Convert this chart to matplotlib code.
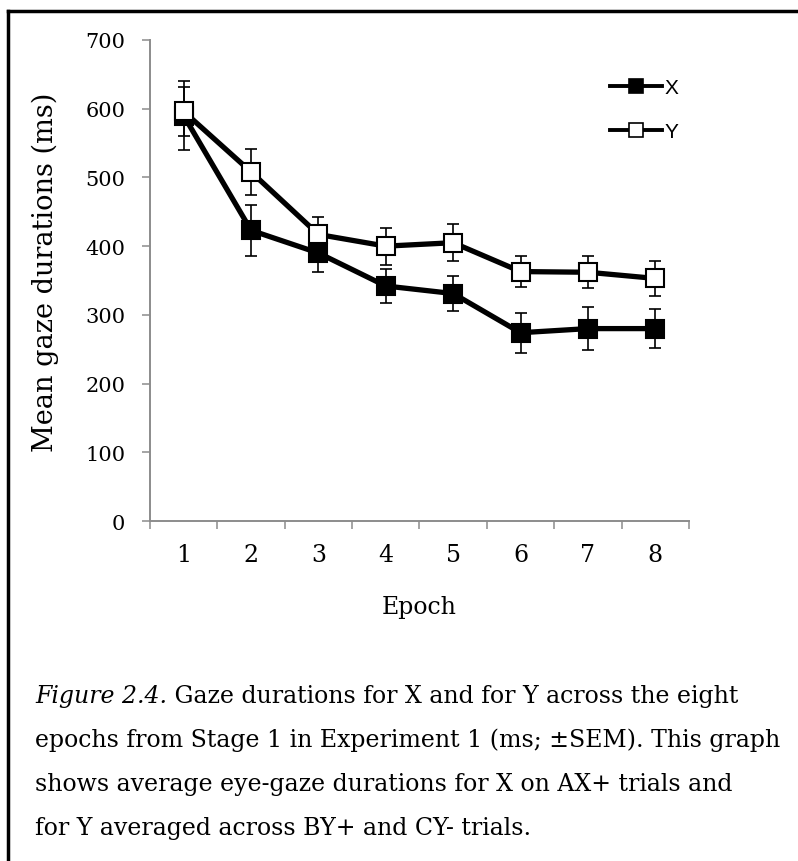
"""Gaze durations for X and Y across the eight Stage 1 epochs."""

import matplotlib
matplotlib.use("Agg")
import matplotlib.pyplot as plt
from matplotlib.lines import Line2D

EPOCHS = [1, 2, 3, 4, 5, 6, 7, 8]
X_MEAN = [590, 423, 390, 342, 331, 274, 280, 280]
X_SEM = [50, 37, 28, 25, 25, 29, 31, 28]
Y_MEAN = [596, 508, 417, 400, 405, 363, 362, 353]
Y_SEM = [36, 33, 26, 27, 27, 23, 23, 26]
Y_TICKS = [0, 100, 200, 300, 400, 500, 600, 700]

CAPTION_ITALIC = "Figure 2.4."
CAPTION_LINES = [
    " Gaze durations for X and for Y across the eight",
    "epochs from Stage 1 in Experiment 1 (ms; \u00b1SEM). This graph",
    "shows average eye-gaze durations for X on AX+ trials and",
    "for Y averaged across BY+ and CY- trials.",
]

W, H = 798, 862
SERIF = "DejaVu Serif"
GREY = "#8c8c8c"


def px_x(x):
    return x / W


def px_y(y):
    return 1 - y / H


def main():
    fig = plt.figure(figsize=(W / 100, H / 100), dpi=100)
    ax = fig.add_axes([px_x(150), px_y(522), (689 - 150) / W, (522 - 41) / H])

    ax.errorbar(EPOCHS, X_MEAN, yerr=X_SEM, fmt="none", ecolor="black",
                elinewidth=1.2, capsize=4.3, capthick=1.2, zorder=2)
    ax.errorbar(EPOCHS, Y_MEAN, yerr=Y_SEM, fmt="none", ecolor="black",
                elinewidth=1.2, capsize=4.3, capthick=1.2, zorder=2)
    ax.plot(EPOCHS, X_MEAN, color="black", lw=3.8, marker="s", ms=12.5,
            mfc="black", mec="black", mew=1.5, zorder=3)
    ax.plot(EPOCHS, Y_MEAN, color="black", lw=3.8, marker="s", ms=12.5,
            mfc="white", mec="black", mew=1.5, zorder=4)

    ax.set_xlim(0.5, 8.5)
    ax.set_ylim(0, 700)
    ax.set_yticks(Y_TICKS)
    ax.set_xticks(EPOCHS)
    ax.set_xticks([e - 0.5 for e in EPOCHS] + [8.5], minor=True)

    for side in ("top", "right"):
        ax.spines[side].set_visible(False)
    for side in ("left", "bottom"):
        ax.spines[side].set_color(GREY)
        ax.spines[side].set_linewidth(1.4)

    ax.tick_params(axis="y", direction="out", length=5.8, width=1.1,
                   color=GREY, pad=12, labelsize=15)
    ax.tick_params(axis="x", which="major", length=0, pad=16, labelsize=17)
    ax.tick_params(axis="x", which="minor", direction="out", length=5.8,
                   width=1.1, color=GREY)
    for lab in ax.get_xticklabels() + ax.get_yticklabels():
        lab.set_family(SERIF)

    ax.set_xlabel("Epoch", family=SERIF, fontsize=17)
    ax.xaxis.set_label_coords(0.5, (522 - 614) / 481)
    ax.xaxis.label.set_va("baseline")
    ax.set_ylabel("Mean gaze durations (ms)", family=SERIF, fontsize=19.5)
    ax.yaxis.set_label_coords((45 - 150) / 539, 0.52)
    ax.yaxis.label.set_va("center")

    handles = [
        Line2D([], [], color="black", lw=2.8, marker="s", ms=9.5,
               mfc="black", mec="black", mew=1.2),
        Line2D([], [], color="black", lw=2.8, marker="s", ms=9.5,
               mfc="white", mec="black", mew=1.2),
    ]
    fig.legend(handles, ["X", "Y"], loc="upper left",
               bbox_to_anchor=(px_x(610), px_y(79)), frameon=False,
               prop={"family": "Liberation Sans", "size": 15},
               handlelength=2.5, handletextpad=0.1, labelspacing=1.2,
               borderpad=0, borderaxespad=0)

    # caption below the chart, first words in italics
    renderer = fig.canvas.get_renderer()
    baselines = [703, 747, 791, 835]
    t = fig.text(px_x(35), px_y(baselines[0]), CAPTION_ITALIC, family=SERIF,
                 style="italic", fontsize=17, va="baseline")
    bb = t.get_window_extent(renderer)
    fig.text(bb.x1 / W, px_y(baselines[0]), CAPTION_LINES[0], family=SERIF,
             fontsize=17, va="baseline")
    for line, base in zip(CAPTION_LINES[1:], baselines[1:]):
        fig.text(px_x(35), px_y(base), line, family=SERIF, fontsize=17,
                 va="baseline")

    # black frame on the left and top edges
    fig.add_artist(Line2D([px_x(8.3), px_x(8.3)], [0, px_y(12.3)],
                          color="black", lw=2.5, solid_capstyle="projecting"))
    fig.add_artist(Line2D([px_x(8.3), 1], [px_y(12.3), px_y(12.3)],
                          color="black", lw=2.5, solid_capstyle="projecting"))

    fig.savefig("out.png", dpi=100)
    plt.close(fig)


if __name__ == "__main__":
    main()
